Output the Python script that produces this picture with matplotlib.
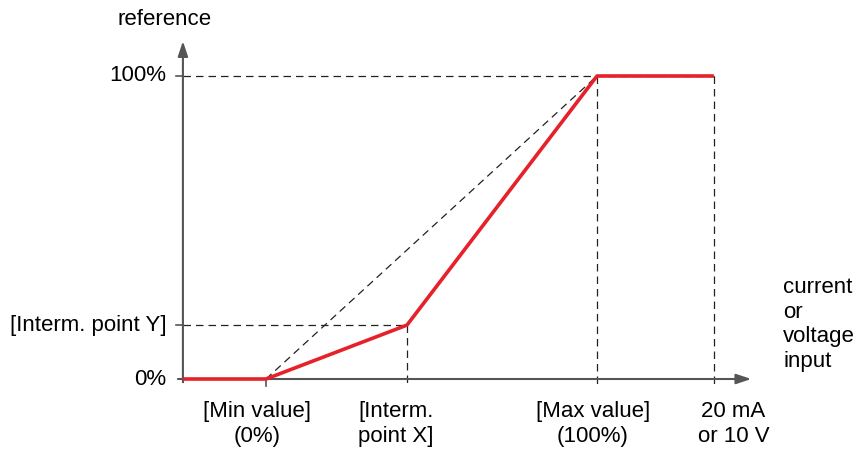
import matplotlib
matplotlib.use("Agg")
import matplotlib.pyplot as plt

plt.rcParams['font.family'] = ['Liberation Sans', 'DejaVu Sans']

# input axis positions (percent of input span, min value = 0, max value = 100)
x_min_val = 0.0
x_interm = 42.6
x_max_val = 100.0
x_full = 135.3

# reference levels (percent)
y_zero = 0.0
y_interm = 17.8
y_full = 100.0

# red curve
curve_x = [-25.1, x_min_val, x_interm, x_max_val, x_full]
curve_y = [y_zero, y_zero, y_interm, y_full, y_full]

x_labels = ["[Min value]\n(0%)", "[Interm.\npoint X]", "[Max value]\n(100%)", "20 mA\nor 10 V"]
x_label_pos = [-2.6, 27.8, 98.8, 141.2]
x_label_ha = ['center', 'left', 'center', 'center']
y_labels = ["0%", "[Interm. point Y]", "100%"]
y_label_pos = [y_zero, y_interm, y_full]

x0 = -25.1      # y axis location
below = -2.4    # how far ticks/dashes go under the x axis

fig = plt.figure(figsize=(8.59, 4.58), dpi=100)
ax = fig.add_axes([0, 0, 1, 1])
ax.set_xlim(-80.36, 179.15)
ax.set_ylim(-26.07, 125.08)
ax.axis('off')

axis_col = '#555555'
fs = 16

# axes with arrows
ax.annotate('', xy=(146.6, 0), xytext=(x0 - 1.5, 0),
            arrowprops=dict(arrowstyle='-|>,head_length=0.9,head_width=0.3',
                            color=axis_col, lw=1.5, shrinkA=0, shrinkB=0))
ax.annotate('', xy=(x0, 111.5), xytext=(x0, y_zero),
            arrowprops=dict(arrowstyle='-|>,head_length=0.9,head_width=0.3',
                            color=axis_col, lw=1.5, shrinkA=0, shrinkB=0))
ax.plot([x0, x0], [y_zero, -1.0], color=axis_col, lw=1.5)

# small ticks
for yv in [y_interm, y_full]:
    ax.plot([x0 - 2.0, x0], [yv, yv], color=axis_col, lw=1.2)
ax.plot([x_min_val, x_min_val], [y_zero, below], color=axis_col, lw=1.2)

dash = dict(color='#222222', lw=0.9, dashes=(6, 4))
ax.plot([x0, x_full], [y_full, y_full], **dash)
ax.plot([x0, x_interm], [y_interm, y_interm], **dash)
ax.plot([x_interm, x_interm], [y_interm, below], **dash)
ax.plot([x_max_val, x_max_val], [y_full, below], **dash)
ax.plot([x_full, x_full], [y_full, below], **dash)
ax.plot([x_min_val, x_max_val], [y_zero, y_full], **dash)

ax.plot(curve_x, curve_y, color='#e62129', lw=2.6, solid_capstyle='butt', zorder=5)

# labels
for lab, yv in zip(y_labels, y_label_pos):
    ax.text(x0 - 4.9, yv, lab, ha='right', va='center', fontsize=fs)
for lab, xv, ha in zip(x_labels, x_label_pos, x_label_ha):
    ax.text(xv, -7.3, lab, ha=ha, va='top', fontsize=fs,
            multialignment=ha if ha == 'left' else 'center', linespacing=1.22)

ax.text(-30.5, 118.6, "reference", ha='center', va='center', fontsize=fs)
ax.text(156.3, 33.6, "current\nor\nvoltage\ninput", ha='left', va='top',
        fontsize=fs, linespacing=1.22)

fig.savefig("out.png", dpi=100)
